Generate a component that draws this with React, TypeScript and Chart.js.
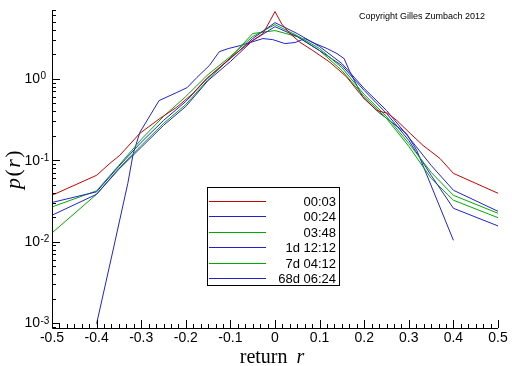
import React, { useEffect, useRef } from 'react';
import { Chart, registerables } from 'chart.js';

Chart.register(...registerables);

// ---- axis ranges & ticks ----
const X_MIN = -0.5;
const X_MAX = 0.5;
const Y_MIN = 8.7e-4;
const Y_MAX = 7;
const xTickValues = [-0.5, -0.4, -0.3, -0.2, -0.1, 0, 0.1, 0.2, 0.3, 0.4, 0.5];
const xTickLabels = ['-0.5', '-0.4', '-0.3', '-0.2', '-0.1', '0', '0.1', '0.2', '0.3', '0.4', '0.5'];
const xMinorPerMajor = 6;
const yTickExponents = [0, -1, -2, -3];

// ---- series ----
const seriesLabels = ['00:03', '00:24', '03:48', '1d 12:12', '7d 04:12', '68d 06:24'];
const seriesColors = ['#cc0000', '#2222cc', '#00aa00', '#2222cc', '#00aa00', '#2222cc'];

const x0003 = [-0.5, -0.4, -0.37, -0.348, -0.303, -0.258, -0.22, -0.184, -0.168, -0.153, -0.1, -0.056, -0.027, -0.011, 0, 0.015, 0.034, 0.056, 0.085, 0.123, 0.161, 0.19, 0.228, 0.253, 0.273, 0.303, 0.332, 0.37, 0.4, 0.5];
const p0003 = [0.0371, 0.0653, 0.0917, 0.115, 0.214, 0.326, 0.449, 0.66, 0.828, 1.01, 1.8, 2.81, 3.59, 5.18, 6.7, 4.72, 3.59, 2.81, 2.22, 1.6, 1.05, 0.66, 0.409, 0.376, 0.308, 0.214, 0.152, 0.105, 0.069, 0.0393];

const xBundle = [-0.5, -0.4, -0.35, -0.3, -0.25, -0.2, -0.15, -0.1, -0.05, 0, 0.05, 0.1, 0.15, 0.2, 0.25, 0.3, 0.35, 0.4, 0.5];
const p0024 = [0.0303, 0.0409, 0.0846, 0.166, 0.308, 0.527, 1.04, 1.77, 3.12, 4.9, 3.59, 2.49, 1.54, 0.76, 0.409, 0.191, 0.0866, 0.0428, 0.0236];
const p0348 = [0.0267, 0.0421, 0.0866, 0.18, 0.345, 0.606, 1.13, 1.88, 3.3, 4.63, 3.39, 2.35, 1.37, 0.642, 0.345, 0.161, 0.0711, 0.0371, 0.0223];
const p1d1212 = [0.0211, 0.0382, 0.0775, 0.144, 0.268, 0.458, 0.953, 1.63, 2.95, 4.37, 3.3, 2.22, 1.456, 0.719, 0.376, 0.175, 0.0653, 0.0257, 0.0156];
const p7d0412 = [0.0128, 0.0382, 0.0796, 0.152, 0.283, 0.484, 0.98, 1.82, 3.6, 3.91, 3.3, 2.22, 1.26, 0.606, 0.326, 0.148, 0.06, 0.0323, 0.0197];

const x68d = [-0.4, -0.363, -0.33, -0.318, -0.303, -0.26, -0.22, -0.197, -0.175, -0.147, -0.125, -0.105, -0.078, -0.027, -0.005, 0.022, 0.045, 0.067, 0.09, 0.117, 0.139, 0.155, 0.167, 0.197, 0.233, 0.295, 0.318, 0.4];
const p68d = [0.00098, 0.0079, 0.052, 0.12, 0.22, 0.54, 0.68, 0.78, 1.04, 1.46, 2.15, 2.35, 2.56, 3.12, 3.03, 2.71, 2.79, 3.12, 2.71, 2.35, 2.04, 1.77, 1.25, 0.59, 0.386, 0.212, 0.132, 0.0104];

const seriesX = [x0003, xBundle, xBundle, xBundle, xBundle, x68d];
const seriesP = [p0003, p0024, p0348, p1d1212, p7d0412, p68d];

const copyrightText = 'Copyright Gilles Zumbach 2012';
const SANS = "'Liberation Sans', Arial, sans-serif";
const SERIF = "'Liberation Serif', 'Times New Roman', serif";

const decorPlugin = {
  id: 'decor',
  afterDraw(chart: any) {
    const ctx = chart.ctx as CanvasRenderingContext2D;
    const xs = chart.scales.x;
    const ys = chart.scales.y;
    const { left, right, top, bottom } = chart.chartArea;
    ctx.save();
    ctx.strokeStyle = '#000';
    ctx.fillStyle = '#000';
    ctx.lineWidth = 1;

    // axis lines
    ctx.beginPath();
    ctx.moveTo(Math.round(left) + 0.5, Math.round(top));
    ctx.lineTo(Math.round(left) + 0.5, Math.round(bottom) + 0.5);
    ctx.lineTo(Math.round(right), Math.round(bottom) + 0.5);
    ctx.stroke();

    // x ticks
    ctx.beginPath();
    const step = 0.1 / xMinorPerMajor;
    const nMinor = Math.round((X_MAX - X_MIN) / step);
    for (let i = 0; i <= nMinor; i++) {
      const v = X_MIN + i * step;
      const px = Math.round(xs.getPixelForValue(v)) + 0.5;
      const len = i % xMinorPerMajor === 0 ? 8 : 4;
      ctx.moveTo(px, bottom);
      ctx.lineTo(px, bottom - len);
    }
    // y ticks
    for (let e = -4; e <= 1; e++) {
      for (let m = 1; m <= 9; m++) {
        const v = m * Math.pow(10, e);
        if (v < Y_MIN * 0.999 || v > Y_MAX * 1.001) continue;
        const py = Math.round(ys.getPixelForValue(v)) + 0.5;
        const len = m === 1 ? 8 : 4;
        ctx.moveTo(left, py);
        ctx.lineTo(left + len, py);
      }
    }
    ctx.stroke();

    // x labels
    ctx.font = `14px ${SANS}`;
    ctx.textAlign = 'center';
    ctx.textBaseline = 'alphabetic';
    xTickValues.forEach((v, i) => {
      ctx.fillText(xTickLabels[i], xs.getPixelForValue(v), bottom + 14);
    });

    // y labels 10^e
    yTickExponents.forEach((e) => {
      const py = ys.getPixelForValue(Math.pow(10, e));
      ctx.font = `14px ${SANS}`;
      ctx.textAlign = 'right';
      ctx.textBaseline = 'middle';
      ctx.fillText('10', left - 12, py + 0.5);
      ctx.font = `10px ${SANS}`;
      ctx.textAlign = 'left';
      ctx.textBaseline = 'alphabetic';
      ctx.fillText(String(e), left - 11.5, py + 0.5);
    });

    // x title: return r
    ctx.textBaseline = 'alphabetic';
    ctx.textAlign = 'left';
    ctx.font = `20px ${SERIF}`;
    const w1 = ctx.measureText('return').width;
    ctx.font = `italic 20px ${SERIF}`;
    const w2 = ctx.measureText('r').width;
    const gap = 9;
    const total = w1 + gap + w2;
    const cx = (left + right) / 2 - 3;
    let sx = cx - total / 2;
    ctx.font = `20px ${SERIF}`;
    ctx.fillText('return', sx, 363);
    ctx.font = `italic 20px ${SERIF}`;
    ctx.fillText('r', sx + w1 + gap, 363);

    // y title: p(r)
    const parts: [string, boolean][] = [['p', true], ['(', false], ['r', true], [')', false]];
    const fs = 22;
    const widths = parts.map(([t, it]) => {
      ctx.font = `${it ? 'italic ' : ''}${fs}px ${SERIF}`;
      return ctx.measureText(t).width + 1.5;
    });
    const tw = widths.reduce((a, b) => a + b, 0);
    ctx.save();
    ctx.translate(20, (top + bottom) / 2);
    ctx.rotate(-Math.PI / 2);
    let ox = -tw / 2;
    parts.forEach(([t, it], i) => {
      ctx.font = `${it ? 'italic ' : ''}${fs}px ${SERIF}`;
      ctx.fillText(t, ox, 0);
      ox += widths[i];
    });
    ctx.restore();

    // copyright
    ctx.font = `9px ${SANS}`;
    ctx.textAlign = 'left';
    ctx.textBaseline = 'alphabetic';
    ctx.fillText(copyrightText, 359, 19);

    // legend
    const lx = 207.5, ly = 187.5, lw = 132, lh = 98;
    ctx.fillStyle = '#fff';
    ctx.fillRect(lx, ly, lw, lh);
    ctx.strokeStyle = '#000';
    ctx.lineWidth = 1;
    ctx.strokeRect(lx, ly, lw, lh);
    ctx.font = `13px ${SANS}`;
    ctx.textAlign = 'right';
    ctx.textBaseline = 'middle';
    chart.data.datasets.forEach((ds: any, i: number) => {
      const ry = Math.round(201 + i * 15.4) + 0.5;
      ctx.strokeStyle = ds.borderColor;
      ctx.beginPath();
      ctx.moveTo(209, ry);
      ctx.lineTo(266, ry);
      ctx.stroke();
      ctx.fillStyle = '#000';
      ctx.fillText(ds.label, 336, ry + 0.5);
    });

    ctx.restore();
  },
};

export default function App() {
  const ref = useRef<HTMLCanvasElement | null>(null);
  useEffect(() => {
    if (!ref.current) return;
    const datasets = seriesLabels.map((label, i) => ({
      label,
      data: seriesX[i].map((x, j) => ({ x, y: seriesP[i][j] })),
      borderColor: seriesColors[i],
      backgroundColor: seriesColors[i],
      borderWidth: 1,
      pointRadius: 0,
      tension: 0,
      fill: false,
    }));
    const chart = new Chart(ref.current, {
      type: 'line',
      data: { datasets },
      options: {
        animation: false,
        responsive: false,
        devicePixelRatio: 1,
        layout: { padding: { left: 52, right: 14, top: 10, bottom: 38 } },
        scales: {
          x: { type: 'linear', min: X_MIN, max: X_MAX, display: false },
          y: { type: 'logarithmic', min: Y_MIN, max: Y_MAX, display: false },
        },
        plugins: { legend: { display: false }, tooltip: { enabled: false } },
      },
      plugins: [decorPlugin],
    } as any);
    return () => chart.destroy();
  }, []);
  return (
    <div style={{ position: 'absolute', left: 0, top: 0, width: 512, height: 366, background: '#fff' }}>
      <canvas ref={ref} width={512} height={366} style={{ width: 512, height: 366, display: 'block' }} />
    </div>
  );
}
